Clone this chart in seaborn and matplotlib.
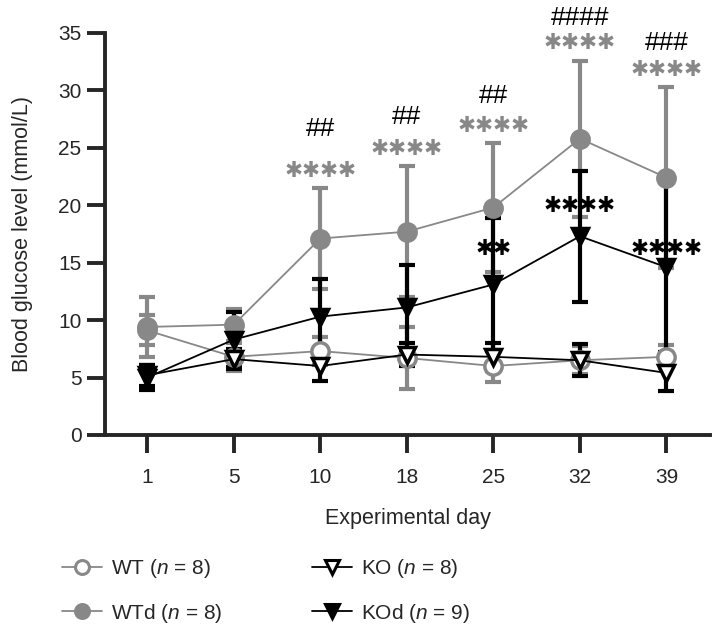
import numpy as np
import pandas as pd
import matplotlib
matplotlib.use("Agg")
import matplotlib.pyplot as plt
from matplotlib.lines import Line2D
import seaborn as sns

days = [1, 5, 10, 18, 25, 32, 39]

wt_mean   = [9.1, 6.8, 7.3, 6.7, 6.0, 6.5, 6.8]
wt_sd     = [1.3, 1.2, 1.2, 2.7, 1.4, 1.2, 1.0]
wtd_mean  = [9.4, 9.6, 17.1, 17.7, 19.8, 25.8, 22.4]
wtd_sd    = [2.6, 1.4, 4.4, 5.7, 5.6, 6.8, 7.9]
ko_mean   = [5.2, 6.6, 6.0, 7.0, 6.8, 6.5, 5.4]
ko_sd     = [0.9, 0.9, 1.3, 1.0, 1.2, 1.4, 1.6]
kod_mean  = [5.0, 8.3, 10.3, 11.1, 13.1, 17.3, 14.6]
kod_sd    = [1.1, 2.4, 3.3, 3.7, 5.8, 5.7, 7.4]

# significance marks (WTd vs WT in grey, KOd vs KO in black, # = WTd vs KOd)
grey_stars   = ["", "", "****", "****", "****", "****", "****"]
hashes       = ["", "", "##", "##", "##", "####", "###"]
hash_y       = [None, None, 26.6, 27.7, 29.5, 36.3, 34.1]
black_stars  = ["", "", "", "", "**", "****", "****"]
black_star_y = [None, None, None, None, 16.2, 19.9, 16.2]

GREY = "#888888"
STAR = "\u2731"

sns.set_style("ticks")
plt.rcParams["font.family"] = ["Liberation Sans", "DejaVu Sans"]
plt.rcParams["mathtext.fontset"] = "custom"
plt.rcParams["mathtext.it"] = "Liberation Sans:italic"
plt.rcParams["mathtext.rm"] = "Liberation Sans"

fig = plt.figure(figsize=(7.25, 6.34), dpi=100)
ax = fig.add_axes([0.145, 0.314, 0.834, 0.634])

pos = np.arange(len(days))
groups = [
    ("WT",  wt_mean,  wt_sd,  GREY,    "o", "white"),
    ("WTd", wtd_mean, wtd_sd, GREY,    "o", GREY),
    ("KO",  ko_mean,  ko_sd,  "black", "v", "white"),
    ("KOd", kod_mean, kod_sd, "black", "v", "black"),
]

for name, m, s, col, mk, fc in groups:
    ax.errorbar(pos, m, yerr=s, fmt="none", ecolor=col, elinewidth=3,
                capsize=6, capthick=3, zorder=2)

for name, m, s, col, mk, fc in groups:
    df = pd.DataFrame({"pos": pos, "mean": m})
    sns.lineplot(data=df, x="pos", y="mean", ax=ax, color=col, linewidth=1.3,
                 marker=mk, markersize=12.5 if mk == "o" else 11.5,
                 markerfacecolor=fc, markeredgecolor=col, markeredgewidth=2.5,
                 zorder=3)


def stars(txt):
    return txt.replace("*", STAR)


top = np.array(wtd_mean) + np.array(wtd_sd)
for i in pos:
    if grey_stars[i]:
        ax.text(i, top[i] + 1.5, stars(grey_stars[i]), color=GREY, ha="center",
                va="center", fontsize=15.5, family="DejaVu Sans", clip_on=False)
    if hashes[i]:
        ax.text(i, hash_y[i], hashes[i], color="black", ha="center",
                va="center", fontsize=19, clip_on=False)
    if black_stars[i]:
        ax.text(i, black_star_y[i], stars(black_stars[i]), color="black",
                ha="center", va="center", fontsize=15.5, family="DejaVu Sans",
                clip_on=False)

ax.set_xlim(-0.486, 6.5)
ax.set_ylim(0, 35)
ax.set_yticks(range(0, 36, 5))
ax.set_xticks(pos)
ax.set_xticklabels([str(d) for d in days])
ax.tick_params(axis="both", width=2.8, length=13, labelsize=15, pad=4)
ax.tick_params(axis="x", pad=11)
for sp in ["left", "bottom"]:
    ax.spines[sp].set_linewidth(2.8)
sns.despine(ax=ax)
ax.set_xlabel("Experimental day", fontsize=15.5, labelpad=15)
ax.set_ylabel("Blood glucose level (mmol/L)", fontsize=15.5, labelpad=18)

handles = []
labels = [r"WT ($\it{n}$ = 8)", r"WTd ($\it{n}$ = 8)",
          r"KO ($\it{n}$ = 8)", r"KOd ($\it{n}$ = 9)"]
for (name, m, s, col, mk, fc), lab in zip(groups, labels):
    handles.append(Line2D([], [], color=col, linewidth=1.3, marker=mk,
                          markersize=10, markerfacecolor=fc,
                          markeredgecolor=col, markeredgewidth=2.2, label=lab))
fig.legend(handles=handles, loc="lower left", bbox_to_anchor=(0.06, -0.015),
           ncol=2, frameon=False, fontsize=15, columnspacing=4.3,
           handlelength=1.9, handletextpad=0.45, labelspacing=1.05)

fig.savefig("out.png", dpi=100)
